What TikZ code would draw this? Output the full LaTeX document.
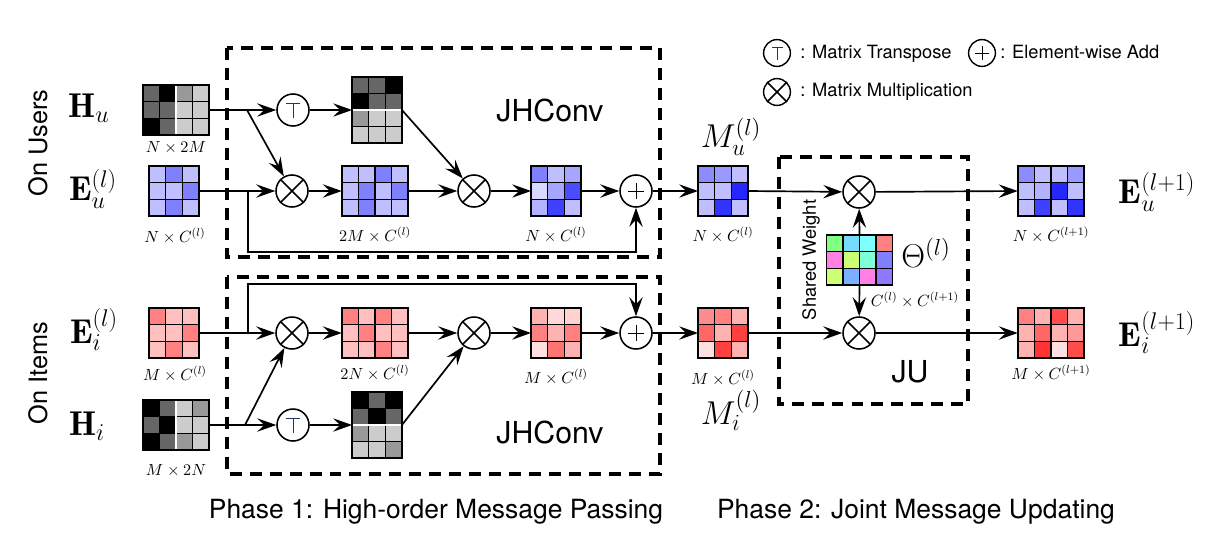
\RequirePackage{fix-cm}
\documentclass[tikz,border=0pt]{standalone}
\usepackage{fontspec}
\setsansfont{TeX Gyre Heros}
\usetikzlibrary{arrows.meta,calc}
\definecolor{thA}{rgb}{0.5,1,0.5}
\definecolor{thB}{rgb}{0.47,0.85,1}
\definecolor{thC}{rgb}{0.5,1,1}
\definecolor{thD}{rgb}{1,0.5,0.5}
\definecolor{thE}{rgb}{1,0.5,0.9}
\definecolor{thF}{rgb}{0.8,1,0.45}
\definecolor{thG}{rgb}{0.5,1,0.85}
\definecolor{thH}{rgb}{0.5,0.5,1}
\definecolor{thI}{rgb}{0.47,0.7,1}
\definecolor{thJ}{rgb}{0.56,0.47,1}
\definecolor{tglyph}{rgb}{0.15,0.2,0.4}
\tikzset{
  arr/.style={line width=1.2pt,-{Stealth[length=13.5pt,width=9.5pt,inset=5pt]}},
  op/.style={circle,draw,line width=1.1pt,minimum size=0.8cm,inner sep=0pt,fill=white},
  lgop/.style={circle,draw,line width=1pt,minimum size=0.67cm,inner sep=0pt,fill=white},
  dbox/.style={line width=2.3pt,dash pattern=on 8.5pt off 5.7pt},
  dimlab/.style={inner sep=0pt,font=\fontsize{11.5}{13}\selectfont},
  biglab/.style={inner sep=0pt,font=\fontsize{24.5}{28}\selectfont},
  hugelab/.style={inner sep=0pt,font=\fontsize{23.5}{28}\selectfont},
  sidelab/.style={inner sep=0pt,rotate=90,font=\sffamily\fontsize{18}{20}\selectfont},
  boxlab/.style={inner sep=0pt,font=\sffamily\fontsize{21.5}{24}\selectfont},
  leglab/.style={inner sep=0pt,anchor=west,font=\sffamily\fontsize{13}{15}\selectfont},
  phaselab/.style={inner sep=0pt,font=\sffamily\fontsize{18.8}{22}\selectfont},
}
\newcommand\mtx[6]{%
  \node[inner sep=0pt,outer sep=0pt,minimum width=#4*0.415cm,minimum height=#5*0.415cm] (#1) at (#2,#3) {};
  \foreach \cl [count=\k from 0] in {#6}{%
    \pgfmathtruncatemacro\cc{mod(\k,#4)}%
    \pgfmathtruncatemacro\rr{int(\k/#4)}%
    \filldraw[fill=\cl,draw=black,line width=1.1pt] ($(#1.north west)+(\cc*0.415cm,-\rr*0.415cm)$) rectangle ++(0.415cm,-0.415cm);
  }%
}
\newcommand\timesglyph[1]{\draw[line width=1.1pt] (#1.45)--(#1.225) (#1.135)--(#1.315);}
\newcommand\plusglyph[2]{\draw[line width=0.6pt] ($(#1)+(-#2,0)$)--($(#1)+(#2,0)$) ($(#1)+(0,-#2)$)--($(#1)+(0,#2)$);}
\newcommand\topglyph[2]{\draw[line width=0.7pt,tglyph] ($(#1)+(-#2,-#2)$)--($(#1)+(#2,-#2)$) ($(#1)+(0,-#2)$)--($(#1)+(0,1.2*#2)$);}
\begin{document}
\begin{tikzpicture}[x=0.025cm,y=-0.025cm]
\useasboundingbox (0,0) rectangle (1216,534);

% dashed boxes
\draw[dbox] (227,48) rectangle (660,257);
\draw[dbox] (227,277) rectangle (660,474);
\draw[dbox] (779,157) rectangle (968,404);

% matrices (users)
\mtx{Hu}{176}{110}{4}{3}{black!60,black,black!40,black!20, black!60,black!60,black!20,black!20, black,black!60,black!20,black!20}
\draw[white,line width=1.1pt] ($(Hu.north)+(0,-0.5pt)$) -- ($(Hu.south)+(0,0.5pt)$);
\mtx{Eu}{174}{191}{3}{3}{blue!25,blue!50,blue!25, blue!25,blue!25,blue!50, blue!25,blue!50,blue!25}
\mtx{HuT}{377}{110}{3}{4}{black!60,black!60,black, black,black!60,black!60, black!40,black!20,black!20, black!20,black!20,black!20}
\draw[white,line width=1.1pt] ($(HuT.west)+(0.5pt,0)$) -- ($(HuT.east)+(-0.5pt,0)$);
\mtx{Mu2}{375}{191}{4}{3}{blue!25,blue!25,blue!50,blue!25, blue!25,blue!50,blue!25,blue!50, blue!25,blue!50,blue!25,blue!25}
\mtx{Mu3}{556}{191}{3}{3}{blue!50,blue!25,blue!35, blue!15,blue!35,blue!70, blue!30,blue!75,blue!25}
\mtx{Mu}{723}{191}{3}{3}{blue!45,blue!40,blue!25, blue!25,blue!25,blue!85, blue!25,blue!80,blue!25}
\mtx{Eu1}{1051}{191}{4}{3}{blue!45,blue!25,blue!25,blue!40, blue!25,blue!30,blue!85,blue!25, blue!25,blue!75,blue!25,blue!80}
\mtx{Th}{859.5}{260}{4}{3}{thA,thB,thC,thD, thE,thF,thG,thH, thF,thI,thE,thJ}

% matrices (items)
\mtx{Ei}{174}{333}{3}{3}{red!50,red!25,red!25, red!25,red!25,red!50, red!25,red!50,red!25}
\mtx{Hi}{176}{425}{4}{3}{black,black!60,black!20,black!40, black!60,black,black!20,black!20, black,black!60,black!40,black!20}
\draw[white,line width=1.1pt] ($(Hi.north)+(0,-0.5pt)$) -- ($(Hi.south)+(0,0.5pt)$);
\mtx{HiT}{377}{425}{3}{4}{black,black!60,black, black!60,black,black!60, black!40,black!20,black!20, black!20,black!20,black!40}
\draw[white,line width=1.1pt] ($(HiT.west)+(0.5pt,0)$) -- ($(HiT.east)+(-0.5pt,0)$);
\mtx{Mi2}{375}{333}{4}{3}{red!50,red!25,red!50,red!25, red!25,red!50,red!25,red!25, red!25,red!25,red!50,red!25}
\mtx{Mi3}{556}{333}{3}{3}{red!30,red!15,red!18, red!50,red!30,red!50, red!12,red!55,red!30}
\mtx{Mi}{723}{333}{3}{3}{red!45,red!50,red!30, red!60,red!30,red!75, red!12,red!75,red!30}
\mtx{Ei1}{1051}{333}{4}{3}{red!50,red!30,red!70,red!30, red!30,red!60,red!30,red!40, red!30,red!80,red!12,red!70}

% operators
\node[op] (T1) at (293,110) {};  \topglyph{T1}{7}
\node[op] (X1) at (292,191) {};  \timesglyph{X1}
\node[op] (X2) at (474,191) {};  \timesglyph{X2}
\node[op] (P1) at (636,191) {};  \plusglyph{P1}{8}
\node[op] (X3) at (859,192) {};  \timesglyph{X3}
\node[op] (X4) at (859,333) {};  \timesglyph{X4}
\node[op] (X1i) at (292,333) {}; \timesglyph{X1i}
\node[op] (X2i) at (474,333) {}; \timesglyph{X2i}
\node[op] (P1i) at (636,333) {}; \plusglyph{P1i}{8}
\node[op] (T1i) at (293,425) {}; \topglyph{T1i}{7}

% connectors (users)
\coordinate (bHu) at (247,110);
\coordinate (bEu) at (248,191);
\coordinate (cEu) at (248,252);
\draw[arr] (Hu.east) -- (T1);
\draw[arr] (bHu) -- (X1);
\draw[arr] (T1) -- (HuT.west);
\draw[arr] (HuT.east) -- (X2);
\draw[arr] (Eu.east) -- (X1);
\draw[arr] (X1) -- (Mu2.west);
\draw[arr] (Mu2.east) -- (X2);
\draw[arr] (X2) -- (Mu3.west);
\draw[arr] (Mu3.east) -- (P1);
\draw[arr] (P1) -- (Mu.west);
\draw[arr] (Mu.east) -- (X3);
\draw[arr] (X3) -- (Eu1.west);
\draw[arr] (Th.north) -- (X3);
\draw[arr] (Th.south) -- (X4);
\draw[arr] (bEu) -- (cEu) -| (P1.south);

% connectors (items)
\coordinate (bHi) at (245,425);
\coordinate (bEi) at (248,333);
\coordinate (cEi) at (248,284);
\draw[arr] (Hi.east) -- (T1i);
\draw[arr] (bHi) -- (X1i);
\draw[arr] (T1i) -- (HiT.west);
\draw[arr] (HiT.east) -- (X2i);
\draw[arr] (Ei.east) -- (X1i);
\draw[arr] (X1i) -- (Mi2.west);
\draw[arr] (Mi2.east) -- (X2i);
\draw[arr] (X2i) -- (Mi3.west);
\draw[arr] (Mi3.east) -- (P1i);
\draw[arr] (P1i) -- (Mi.west);
\draw[arr] (Mi.east) -- (X4);
\draw[arr] (X4) -- (Ei1.west);
\draw[arr] (bEi) -- (cEi) -| (P1i.north);

% side and matrix labels
\node[sidelab] (onU) at (38,143) {On Users};
\node[sidelab] (onI) at (38,373) {On Items};
\node[biglab] (lHu) at (89,108) {$\mathbf{H}_u$};
\node[biglab] (lEu) at (93,189) {$\mathbf{E}_u^{(l)}$};
\node[biglab] (lEi) at (94,329) {$\mathbf{E}_i^{(l)}$};
\node[biglab] (lHi) at (87,426) {$\mathbf{H}_i$};
\node[biglab] (lEu1) at (1157,192) {$\mathbf{E}_u^{(l+1)}$};
\node[biglab] (lEi1) at (1157,332) {$\mathbf{E}_i^{(l+1)}$};
\node[hugelab] (lMu) at (731,137) {$M_u^{(l)}$};
\node[hugelab] (lMi) at (731,410) {$M_i^{(l)}$};
\node[hugelab] (lTh) at (926,253) {$\Theta^{(l)}$};

\node[dimlab] (dHu) at (176,148) {$N\times 2M$};
\node[dimlab] (dEu) at (175,236) {$N\times C^{(l)}$};
\node[dimlab] (dMu2) at (375,235) {$2M\times C^{(l)}$};
\node[dimlab] (dMu3) at (556,235) {$N\times C^{(l)}$};
\node[dimlab] (dMu) at (723,235) {$N\times C^{(l)}$};
\node[dimlab] (dEu1) at (1051,235) {$N\times C^{(l+1)}$};
\node[dimlab] (dTh) at (915,300) {$C^{(l)}\times C^{(l+1)}$};
\node[dimlab] (dEi) at (175,374) {$M\times C^{(l)}$};
\node[dimlab] (dMi2) at (375,373) {$2N\times C^{(l)}$};
\node[dimlab] (dMi3) at (556,377) {$M\times C^{(l)}$};
\node[dimlab] (dMi) at (723,378) {$M\times C^{(l)}$};
\node[dimlab] (dEi1) at (1051,373) {$M\times C^{(l+1)}$};
\node[dimlab] (dHi) at (176,471) {$M\times 2N$};

\node[boxlab] (jh1) at (550,110) {JHConv};
\node[boxlab] (jh2) at (550,432) {JHConv};
\node[boxlab] (ju) at (910,372) {JU};
\node[inner sep=0pt,rotate=90,font=\sffamily\fontsize{13}{15}\selectfont] (sw) at (811,260) {Shared Weight};

% legend
\node[lgop] (lgT) at (777,53) {}; \topglyph{lgT}{5.5}
\node[leglab] (lgTt) at (800,54) {: Matrix Transpose};
\node[lgop] (lgP) at (982,53) {}; \plusglyph{lgP}{7}
\node[leglab] (lgPt) at (1000,52) {: Element-wise Add};
\node[lgop] (lgX) at (777,92) {}; \timesglyph{lgX}
\node[leglab] (lgXt) at (800,92) {: Matrix Multiplication};

% phases
\node[phaselab] (ph1) at (436,512) {Phase 1: High-order Message Passing};
\node[phaselab] (ph2) at (916,512) {Phase 2: Joint Message Updating};
\end{tikzpicture}
\end{document}
